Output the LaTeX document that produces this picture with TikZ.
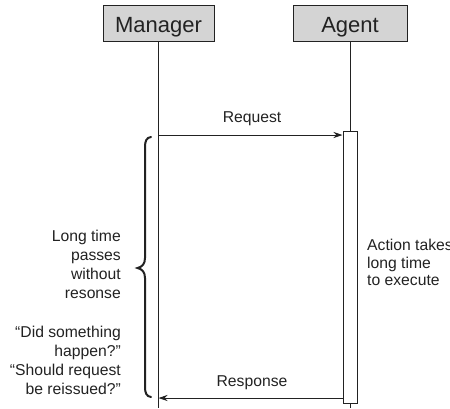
\documentclass[tikz,border=0pt]{standalone}
\usepackage{fontspec}
\setmainfont{Liberation Sans}
\usetikzlibrary{arrows.meta}
\definecolor{ink}{HTML}{222222}
\definecolor{boxfill}{HTML}{D4D4D4}
\begin{document}
\begin{tikzpicture}[x=1pt,y=-1pt,
  actor/.style={draw=ink, fill=boxfill, line width=1pt, minimum height=36pt, inner sep=0pt,
    font=\fontsize{22}{26}\selectfont, text=ink, text height=20pt, text depth=0.6pt},
  life/.style={draw=ink, line width=0.9pt},
  msg/.style={draw=ink, line width=0.9pt, -{Stealth[length=9pt,width=6pt]}},
  lbl/.style={font=\fontsize{15.7}{19}\selectfont, text=ink, inner sep=0pt},
  bracepath/.style={draw=ink, line width=2pt, line cap=round},
  actbox/.style={draw=ink, fill=white, line width=1pt, minimum width=14pt, minimum height=272pt, inner sep=0pt}
]
\useasboundingbox (0,0) rectangle (450,408);
\node[actor, minimum width=111pt] (mgr) at (158.5,23) {Manager};
\node[actor, minimum width=114pt] (agt) at (350,23) {Agent};
\node[actbox] (act) at (350,267) {};
\coordinate (mgrend) at (158.5,408);
\coordinate (agtend) at (350,408);
\coordinate (reqstart) at (158.5,135);
\coordinate (resend) at (158.5,398);
\draw[life] (mgr.south) -- (mgrend);
\draw[life] (agt.south) -- (act.north);
\draw[life] (act.south) -- (agtend);
\draw[msg] (reqstart) -- (act.west |- reqstart);
\draw[msg] (act.west |- resend) -- (resend);
\node[lbl, anchor=base] (reqlbl) at (252,122.7) {Request};
\node[lbl, anchor=base] (reslbl) at (252,386.7) {Response};
\draw[bracepath] (151,137) .. controls (146.5,137.5) and (145,141) .. (145,147)
  -- (145,258) .. controls (145,264) and (142,267) .. (137.5,268)
  .. controls (142,269) and (145,272) .. (145,278)
  -- (145,387) .. controls (145,393) and (146.5,396.5) .. (151,397);
\node[lbl, anchor=north east, align=right] (wait) at (121,229.5)
  {Long time\\passes\\without\\resonse\\[20pt]“Did something\\happen?”\\“Should request\\be reissued?”};
\node[lbl, anchor=north west, align=left, font=\fontsize{15.7}{17.3}\selectfont] (acttxt) at (367,239.3)
  {Action takes\\long time\\to execute};
\end{tikzpicture}
\end{document}
